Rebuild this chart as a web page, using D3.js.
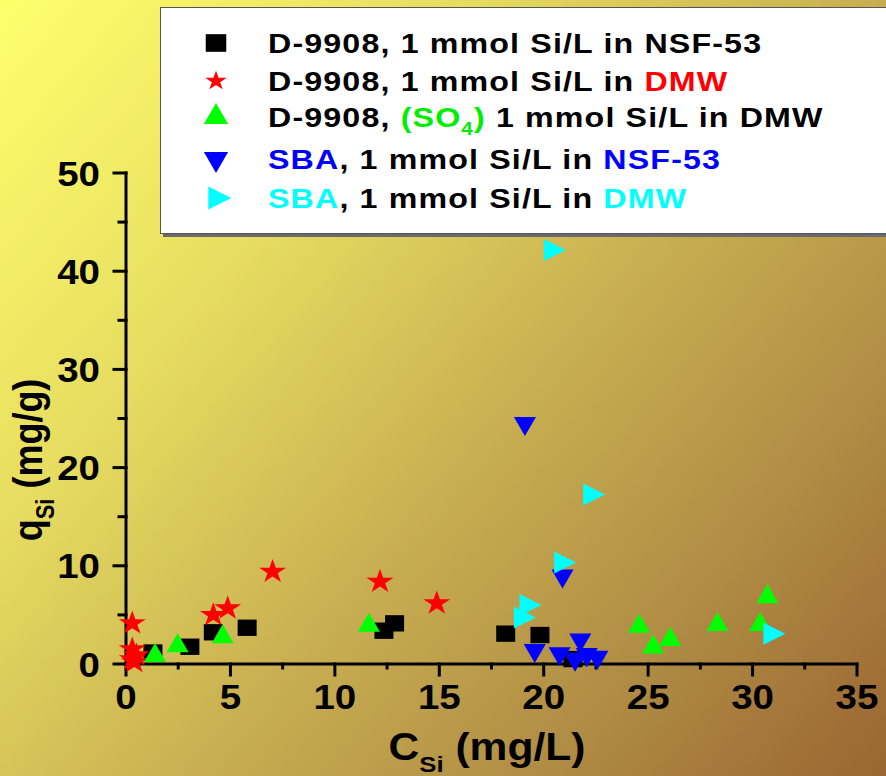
<!DOCTYPE html>
<html>
<head>
<meta charset="utf-8">
<script src="https://cdn.jsdelivr.net/npm/d3@7"></script>
<style>
  html, body { margin: 0; padding: 0; background: #fff; }
  svg { display: block; }
</style>
</head>
<body>
<script>
// Silica uptake q_Si (mg/g) against equilibrium concentration C_Si (mg/L)

// D-9908, 1 mmol Si/L in NSF-53 (black squares)
const d9908Nsf = [[1.29,1.17],[3.06,1.76],[4.18,3.23],[5.80,3.69],[12.35,3.39],[12.86,4.14],[18.18,3.09],[19.82,2.95],[21.40,0.50]];
// D-9908, 1 mmol Si/L in DMW (red stars)
const d9908Dmw = [[0.30,4.15],[0.30,1.50],[0.50,0.90],[0.30,0.50],[0.40,0.20],[4.18,5.00],[4.87,5.67],[7.02,9.40],[12.16,8.38],[14.88,6.18]];
// D-9908, (SO4) 1 mmol Si/L in DMW (green triangles)
const d9908So4 = [[1.39,0.85],[2.47,1.84],[4.63,2.75],[11.63,3.92],[24.57,3.83],[25.24,1.71],[26.06,2.47],[28.32,4.00],[30.36,4.00],[30.71,6.84]];
// SBA, 1 mmol Si/L in NSF-53 (blue down-triangles)
const sbaNsf = [[19.10,24.50],[19.57,1.40],[20.76,1.07],[21.75,2.46],[22.06,0.97],[22.57,0.70],[21.50,0.50],[20.90,8.98]];
// SBA, 1 mmol Si/L in DMW (cyan right-triangles)
const sbaDmw = [[20.36,42.16],[22.24,17.26],[20.85,10.34],[19.19,6.00],[18.92,4.74],[30.87,3.07]];

const xMajor = [0,5,10,15,20,25,30,35];
const xMinor = [2.5,7.5,12.5,17.5,22.5,27.5,32.5];
const yMajor = [0,10,20,30,40,50];
const yMinor = [5,15,25,35,45];

const W = 886, H = 776;
const FONT = "'Liberation Sans', Arial, sans-serif";

const svg = d3.select("body").append("svg")
  .attr("width", W).attr("height", H)
  .attr("viewBox", `0 0 ${W} ${H}`);

// diagonal yellow-to-brown backdrop
const grad = svg.append("defs").append("linearGradient")
  .attr("id", "bg").attr("gradientUnits", "userSpaceOnUse")
  .attr("x1", 0).attr("y1", 0).attr("x2", W).attr("y2", H);
[[0,"#ffff6c"],[0.3,"#e6dc60"],[0.55,"#c9b052"],[0.78,"#b08c44"],[1,"#9a6532"]]
  .forEach(([o,c]) => grad.append("stop").attr("offset", o).attr("stop-color", c));
svg.append("rect").attr("width", W).attr("height", H).attr("fill", "url(#bg)");

const x = d3.scaleLinear().domain([0, 35]).range([126, 857]);
const y = d3.scaleLinear().domain([0, 50]).range([664, 173]);

// axes
const axisG = svg.append("g").attr("stroke", "#000").attr("stroke-width", 3).attr("stroke-linecap", "square");
axisG.append("line").attr("x1", x(0)).attr("x2", x(35)).attr("y1", y(0)).attr("y2", y(0));
axisG.append("line").attr("x1", x(0)).attr("x2", x(0)).attr("y1", y(0)).attr("y2", y(50));
axisG.selectAll(".xmaj").data(xMajor).join("line")
  .attr("x1", d => x(d)).attr("x2", d => x(d)).attr("y1", y(0)).attr("y2", y(0) + 11);
axisG.selectAll(".xmin").data(xMinor).join("line")
  .attr("x1", d => x(d)).attr("x2", d => x(d)).attr("y1", y(0)).attr("y2", y(0) + 4);
axisG.selectAll(".ymaj").data(yMajor).join("line")
  .attr("x1", x(0)).attr("x2", x(0) - 12).attr("y1", d => y(d)).attr("y2", d => y(d));
axisG.selectAll(".ymin").data(yMinor).join("line")
  .attr("x1", x(0)).attr("x2", x(0) - 7).attr("y1", d => y(d)).attr("y2", d => y(d));

// tick labels (bold, slightly widened)
const TICK_STRETCH = 1.1;
svg.append("g").selectAll("text").data(xMajor).join("text")
  .attr("transform", d => `translate(${x(d)},709) scale(${TICK_STRETCH},1)`)
  .attr("text-anchor", "middle")
  .attr("font-family", FONT).attr("font-weight", "bold").attr("font-size", 35)
  .text(d => d);
svg.append("g").selectAll("text").data(yMajor).join("text")
  .attr("transform", d => `translate(100,${y(d) + 12.5}) scale(${TICK_STRETCH},1)`)
  .attr("text-anchor", "end")
  .attr("font-family", FONT).attr("font-weight", "bold").attr("font-size", 35)
  .text(d => d);

// axis titles
const xt = svg.append("text")
  .attr("transform", "translate(487,760) scale(1.12,1)")
  .attr("text-anchor", "middle")
  .attr("font-family", FONT).attr("font-weight", "bold").attr("font-size", 38);
xt.append("tspan").text("C");
xt.append("tspan").attr("font-size", 23).attr("dy", 12).text("Si");
xt.append("tspan").attr("dy", -12).text(" (mg/L)");

const yt = svg.append("text")
  .attr("transform", "translate(42,460) scale(1.15,1) rotate(-90)")
  .attr("text-anchor", "middle")
  .attr("font-family", FONT).attr("font-weight", "bold").attr("font-size", 36);
yt.append("tspan").text("q");
yt.append("tspan").attr("font-size", 22).attr("dy", 10).text("Si");
yt.append("tspan").attr("dy", -10).text(" (mg/g)");

// marker shapes
const markers = {
  square:  { path: d3.symbol(d3.symbolSquare, 361)(), rot: 0,   sx: 1,    sy: 0.86 },
  star:    { path: d3.symbol(d3.symbolStar, 226)(),   rot: 0,   sx: 1,    sy: 0.9 },
  up:      { path: d3.symbol(d3.symbolTriangle, 210)(), rot: 0, sx: 1,    sy: 1 },
  down:    { path: d3.symbol(d3.symbolTriangle, 210)(), rot: 180, sx: 1,  sy: 1 },
  right:   { path: d3.symbol(d3.symbolTriangle, 210)(), rot: 90, sx: 1.15, sy: 1 }
};

const series = [
  { name: "d9908Nsf", data: d9908Nsf, shape: "square", color: "#000000" },
  { name: "d9908Dmw", data: d9908Dmw, shape: "star",   color: "#ff0000" },
  { name: "d9908So4", data: d9908So4, shape: "up",     color: "#00ff00" },
  { name: "sbaNsf",   data: sbaNsf,   shape: "down",   color: "#0000ff" },
  { name: "sbaDmw",   data: sbaDmw,   shape: "right",  color: "#00ffff" }
];

function markerTransform(m, px, py, k = 1) {
  return `translate(${px},${py}) scale(${m.sx * k},${m.sy * k}) rotate(${m.rot})`;
}

series.forEach(s => {
  const m = markers[s.shape];
  svg.append("g").attr("class", s.name).selectAll("path").data(s.data).join("path")
    .attr("d", m.path)
    .attr("fill", s.color)
    .attr("transform", d => markerTransform(m, x(d[0]), y(d[1])));
});

// legend
const legendRows = [
  { shape: "square", color: "#000000", k: 1.08, parts: [
    { t: "D-9908, 1 mmol Si/L in NSF-53", c: "#000" }] },
  { shape: "star", color: "#ff0000", k: 0.8, parts: [
    { t: "D-9908, 1 mmol Si/L in ", c: "#000" }, { t: "DMW", c: "#ff0000" }] },
  { shape: "up", color: "#00ff00", k: 1.1, parts: [
    { t: "D-9908, ", c: "#000" }, { t: "(SO", c: "#00ee00" }, { t: "4", c: "#00ee00", sub: true },
    { t: ")", c: "#00ee00" }, { t: " 1 mmol Si/L in DMW", c: "#000" }] },
  { shape: "down", color: "#0000ff", k: 1.1, parts: [
    { t: "SBA", c: "#0000ff" }, { t: ", 1 mmol Si/L in ", c: "#000" }, { t: "NSF-53", c: "#0000ff" }] },
  { shape: "right", color: "#00ffff", k: 1.05, parts: [
    { t: "SBA", c: "#00ffff" }, { t: ", 1 mmol Si/L in ", c: "#000" }, { t: "DMW", c: "#00ffff" }] }
];
const legendY = [43, 81, 117, 159, 198];

const lg = svg.append("g");
lg.append("rect").attr("x", 163).attr("y", 10).attr("width", 760).attr("height", 227).attr("fill", "#6a6a6a");
lg.append("rect").attr("x", 160.5).attr("y", 7.5).attr("width", 760).attr("height", 226)
  .attr("fill", "#fff").attr("stroke", "#555").attr("stroke-width", 1);

legendRows.forEach((r, i) => {
  const m = markers[r.shape];
  const cy = legendY[i];
  lg.append("path").attr("d", m.path).attr("fill", r.color)
    .attr("transform", markerTransform(m, 216, cy, r.k));
  const t = lg.append("text")
    .attr("transform", `translate(268,${cy + 10}) scale(1.15,1)`)
    .attr("font-family", FONT).attr("font-weight", "bold").attr("font-size", 28)
    .attr("letter-spacing", 1.0);
  r.parts.forEach(p => {
    const ts = t.append("tspan").attr("fill", p.c).text(p.t);
    if (p.sub) ts.attr("font-size", 18).attr("dy", 8);
    else if (p.t === ")") ts.attr("dy", -8);
  });
});
</script>
</body>
</html>
